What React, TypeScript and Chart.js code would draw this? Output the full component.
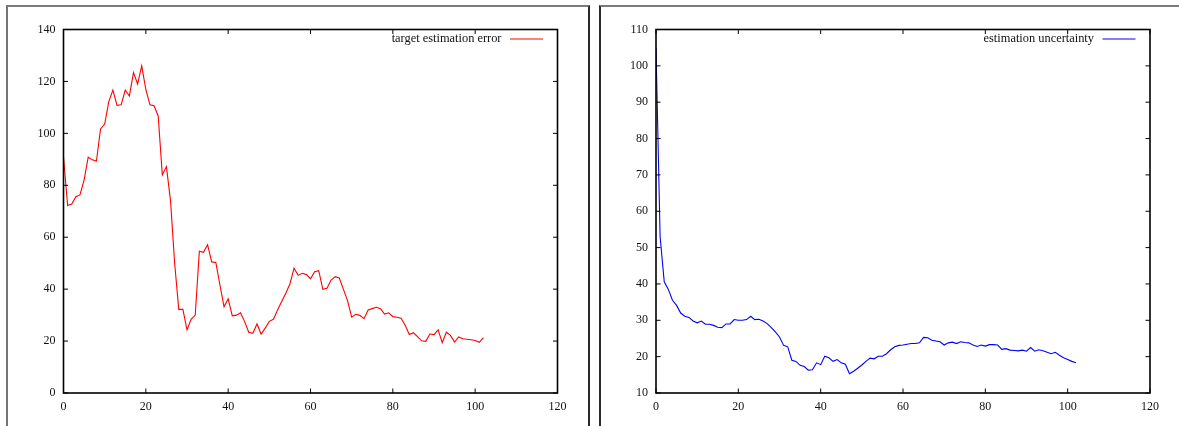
import React, { useEffect, useRef } from "react";
import { Chart, registerables } from "chart.js";

Chart.register(...registerables);

// target estimation error, sampled at steps 0..102
const errorValues = [
  91, 72.2, 72.8, 75.6, 76.3, 82, 90.8, 89.8, 89.3, 101.7,
  103.6, 112.2, 116.7, 110.8, 111, 116.7, 114.4, 123.4, 119, 126,
  116.9, 111, 110.6, 106.7, 84, 87.2, 74, 50, 32.2, 32.2,
  24.3, 28.4, 30, 54.6, 54.2, 57.1, 50.5, 50.3, 41.6, 33.2,
  36.3, 29.7, 30, 30.9, 27.5, 23.4, 23, 26.6, 22.7, 25,
  27.6, 28.4, 32, 35.2, 38.4, 42, 48.1, 45.3, 46.1, 45.6,
  44, 46.7, 47.1, 39.9, 40.3, 43.5, 44.8, 44.3, 39.9, 35.6,
  29.2, 30.3, 29.9, 28.6, 32, 32.5, 33, 32.5, 30.4, 30.9,
  29.4, 29.2, 28.8, 26.1, 22.5, 23.2, 21.7, 20.1, 19.9, 22.7,
  22.5, 24.3, 19.4, 23.4, 22.2, 19.6, 21.6, 20.9, 20.7, 20.5,
  20.2, 19.5, 21.3,
];

// estimation uncertainty, sampled at steps 0..102
const uncertaintyValues = [
  105, 53, 40.6, 38.5, 35.5, 34.1, 32, 31.1, 30.8, 29.8,
  29.3, 29.8, 28.9, 28.9, 28.6, 28.1, 28, 29, 29, 30.2,
  30, 30, 30.2, 31.1, 30.2, 30.3, 29.8, 29.1, 28, 26.8,
  25.4, 23.1, 22.7, 19, 18.7, 17.6, 17.3, 16.3, 16.4, 18.3,
  17.8, 20.1, 19.7, 18.7, 19.2, 18.3, 17.9, 15.3, 16, 16.8,
  17.7, 18.7, 19.6, 19.4, 20.1, 20.1, 20.8, 21.9, 22.7, 23.1,
  23.2, 23.4, 23.6, 23.6, 23.8, 25.3, 25.2, 24.5, 24.3, 24.1,
  23.2, 23.8, 24, 23.6, 24.1, 23.9, 23.8, 23.2, 22.8, 23.2,
  22.9, 23.3, 23.3, 23.2, 22, 22.2, 21.8, 21.7, 21.6, 21.8,
  21.5, 22.5, 21.5, 21.9, 21.6, 21.2, 20.8, 21.2, 20.4, 19.7,
  19.2, 18.7, 18.3,
];

const xAxisRange = [0, 120];
const xAxisStep = 20;
const errorAxisRange = [0, 140];
const errorAxisStep = 20;
const uncertaintyAxisRange = [10, 110];
const uncertaintyAxisStep = 10;

const errorLabel = "target estimation error";
const uncertaintyLabel = "estimation uncertainty";

const FONT = '"Liberation Serif", "Times New Roman", serif';

const gnuplotFrame = {
  id: "gnuplotFrame",
  afterDatasetsDraw(chart: any) {
    const { ctx, chartArea: a, scales } = chart;
    ctx.save();
    ctx.strokeStyle = "#000";
    ctx.lineWidth = 1;
    const t = 4.5;
    const seg = (x1: number, y1: number, x2: number, y2: number) => {
      ctx.beginPath();
      ctx.moveTo(x1, y1);
      ctx.lineTo(x2, y2);
      ctx.stroke();
    };
    scales.x.ticks.forEach((tk: any) => {
      const p = scales.x.getPixelForValue(tk.value);
      seg(p, a.bottom, p, a.bottom - t);
      seg(p, a.top, p, a.top + t);
    });
    scales.y.ticks.forEach((tk: any) => {
      const p = scales.y.getPixelForValue(tk.value);
      seg(a.left, p, a.left + t, p);
      seg(a.right, p, a.right - t, p);
    });
    ctx.lineWidth = 1.6;
    ctx.strokeRect(a.left, a.top, a.right - a.left, a.bottom - a.top);

    const ds = chart.data.datasets[0];
    const ly = a.top + 9.5;
    ctx.font = `12.4px ${FONT}`;
    ctx.fillStyle = "#111";
    ctx.textAlign = "right";
    ctx.textBaseline = "middle";
    ctx.fillText(ds.label, a.right - 56, ly);
    ctx.strokeStyle = ds.borderColor;
    ctx.lineWidth = 1;
    seg(a.right - 47.5, ly, a.right - 14.5, ly);
    ctx.restore();
  },
};

type Props = {
  values: number[];
  label: string;
  color: string;
  yRange: number[];
  yStep: number;
  left: number;
  width: number;
  yWidth: number;
  padRight: number;
};

function GnuplotChart(p: Props) {
  const ref = useRef<HTMLCanvasElement | null>(null);
  useEffect(() => {
    if (!ref.current) return;
    const chart = new Chart(ref.current, {
      type: "line",
      data: {
        datasets: [
          {
            label: p.label,
            data: p.values.map((v, i) => ({ x: i, y: v })),
            borderColor: p.color,
            borderWidth: 1.1,
            pointRadius: 0,
            tension: 0,
            fill: false,
          },
        ],
      },
      options: {
        responsive: false,
        animation: false,
        devicePixelRatio: 1,
        layout: { padding: { left: 0, right: p.padRight, top: 21.5, bottom: 0 } },
        plugins: { legend: { display: false }, tooltip: { enabled: false } },
        scales: {
          x: {
            type: "linear",
            min: xAxisRange[0],
            max: xAxisRange[1],
            ticks: {
              stepSize: xAxisStep,
              padding: 6.5,
              color: "#111",
              font: { family: FONT, size: 12 },
              maxRotation: 0,
            },
            grid: { display: false, drawTicks: false },
            border: { display: false },
            afterFit: (s: any) => {
              s.height = 33;
            },
          },
          y: {
            type: "linear",
            min: p.yRange[0],
            max: p.yRange[1],
            ticks: {
              stepSize: p.yStep,
              padding: 8,
              color: "#111",
              font: { family: FONT, size: 12 },
            },
            grid: { display: false, drawTicks: false },
            border: { display: false },
            afterFit: (s: any) => {
              s.width = p.yWidth;
            },
          },
        },
      },
      plugins: [gnuplotFrame],
    } as any);
    return () => chart.destroy();
  }, []);
  return (
    <canvas
      ref={ref}
      width={p.width}
      height={418}
      style={{ position: "absolute", left: p.left, top: 8, width: p.width, height: 418 }}
    />
  );
}

export default function App() {
  return (
    <div
      style={{
        position: "absolute",
        left: 0,
        top: 0,
        width: 1179,
        height: 426,
        overflow: "hidden",
        background: "#fff",
      }}
    >
      <div
        style={{
          position: "absolute",
          left: 6,
          top: 5,
          width: 580,
          height: 440,
          borderLeft: "2px solid #747474",
          borderTop: "2px solid #7a7a7a",
          borderRight: "2px solid #2a2a2a",
        }}
      />
      <div
        style={{
          position: "absolute",
          left: 598.5,
          top: 5,
          width: 600,
          height: 440,
          borderLeft: "2px solid #2a2a2a",
          borderTop: "2px solid #7a7a7a",
        }}
      />
      <GnuplotChart
        values={errorValues}
        label={errorLabel}
        color="#ff0000"
        yRange={errorAxisRange}
        yStep={errorAxisStep}
        left={10}
        width={570}
        yWidth={53.5}
        padRight={22.5}
      />
      <GnuplotChart
        values={uncertaintyValues}
        label={uncertaintyLabel}
        color="#0000ff"
        yRange={uncertaintyAxisRange}
        yStep={uncertaintyAxisStep}
        left={602}
        width={577}
        yWidth={54}
        padRight={29}
      />
    </div>
  );
}
